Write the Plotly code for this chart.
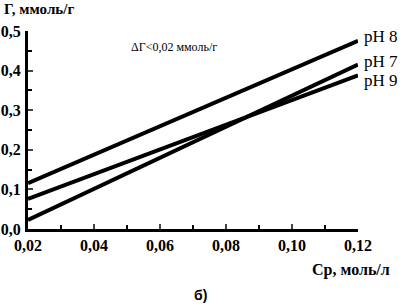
import plotly.graph_objects as go

cp = [0.02, 0.12]
ph8 = [0.116, 0.475]
ph7 = [0.023, 0.415]
ph9 = [0.076, 0.388]
series_names = ["pH 8", "pH 7", "pH 9"]
series_vals = [ph8, ph7, ph9]
label_y = [0.487, 0.423, 0.376]

x_ticks = [0.02, 0.04, 0.06, 0.08, 0.10, 0.12]
x_ticklabels = ["0,02", "0,04", "0,06", "0,08", "0,10", "0,12"]
y_ticks = [0.0, 0.1, 0.2, 0.3, 0.4, 0.5]
y_ticklabels = ["0,0", "0,1", "0,2", "0,3", "0,4", "0,5"]

FONT = "Liberation Serif"
fig = go.Figure()
for name, vals in zip(series_names, series_vals):
    fig.add_trace(go.Scatter(x=cp, y=vals, mode="lines", name=name,
                             line=dict(color="black", width=4), showlegend=False))

for name, vals, ly in zip(series_names, series_vals, label_y):
    fig.add_annotation(x=1.0, xref="paper", xshift=4, y=ly, yref="y", text=name,
                       showarrow=False, xanchor="left", yanchor="middle",
                       font=dict(family=FONT, size=17, color="black"))

fig.add_annotation(x=0.0505, xref="x", y=0.46, yref="y", text="ΔГ<0,02 ммоль/г",
                   showarrow=False, xanchor="left", yanchor="middle",
                   font=dict(family=FONT, size=12, color="black"))
fig.add_annotation(x=0, xref="paper", xshift=-26, y=1.0, yref="paper", yshift=22,
                   text="<b>Г, ммоль/г</b>", showarrow=False, xanchor="left", yanchor="middle",
                   font=dict(family=FONT, size=15, color="black"))
fig.add_annotation(x=1, xref="paper", xshift=34, y=0, yref="paper", yshift=-41,
                   text="<b>Ср, моль/л</b>", showarrow=False, xanchor="right", yanchor="middle",
                   font=dict(family=FONT, size=16, color="black"))
fig.add_annotation(x=0, xref="paper", xshift=172, y=0, yref="paper", yshift=-66,
                   text="<b>б)</b>", showarrow=False, xanchor="center", yanchor="middle",
                   font=dict(family="Liberation Sans", size=14, color="black"))

fig.update_layout(
    width=402, height=307,
    margin=dict(l=28, r=44, t=31, b=78, autoexpand=False),
    paper_bgcolor="white", plot_bgcolor="white",
    font=dict(family=FONT, size=15, color="black"),
    xaxis=dict(range=[0.02, 0.12], tickvals=x_ticks, ticktext=["<b>%s</b>" % t for t in x_ticklabels],
               ticks="inside", ticklen=5, tickwidth=2, automargin=False,
               showline=True, linewidth=3, linecolor="black", showgrid=False, zeroline=False,
               minor=dict(dtick=0.01, tick0=0.02, ticks="inside", ticklen=4, tickwidth=2, tickcolor="black"),
               tickfont=dict(family=FONT, size=16, color="black")),
    yaxis=dict(range=[0, 0.5], tickvals=y_ticks, ticktext=["<b>%s</b>" % t for t in y_ticklabels],
               ticks="inside", ticklen=5, tickwidth=2, automargin=False, ticklabelstandoff=1,
               showline=True, linewidth=3, linecolor="black", showgrid=False, zeroline=False,
               minor=dict(dtick=0.05, tick0=0, ticks="inside", ticklen=4, tickwidth=2, tickcolor="black"),
               tickfont=dict(family=FONT, size=16, color="black")),
)
fig.write_html("out.html", config={"displayModeBar": False},
               post_script="document.body.style.margin='0px';document.body.style.overflow='hidden';")
